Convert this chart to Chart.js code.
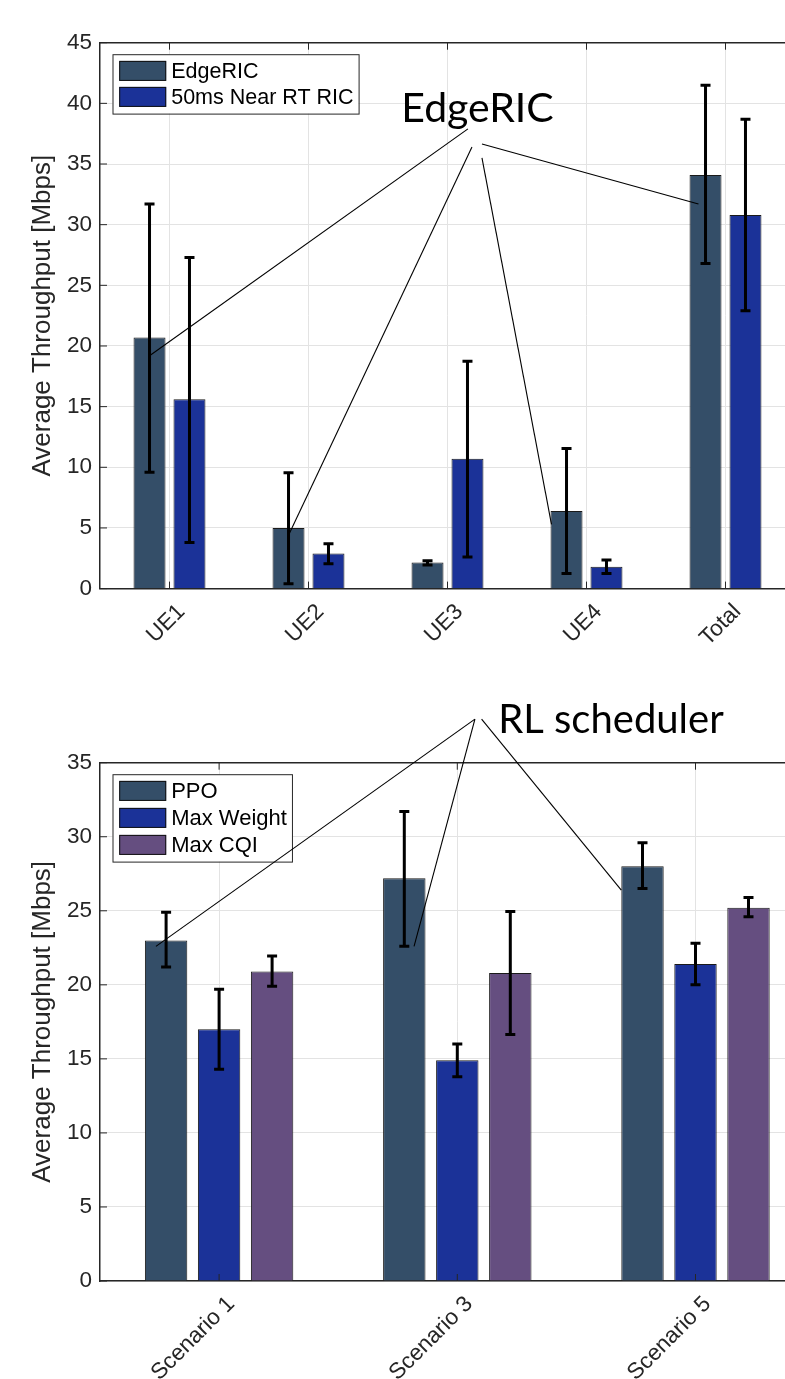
<!DOCTYPE html>
<html>
<head>
<meta charset="utf-8">
<script src="https://cdn.jsdelivr.net/npm/chart.js@4"></script>
<style>
  body { margin: 0; background: #fff; overflow: hidden; width: 785px; height: 1379px; position: relative; }
  canvas { position: absolute; left: 0; }
  #ricChart { top: 0; }
  #schedChart { top: 680px; }
</style>
</head>
<body>
<canvas id="ricChart" width="800" height="680"></canvas>
<canvas id="schedChart" width="820" height="699"></canvas>
<script>
// Top panel: EdgeRIC vs 50ms near-RT RIC
const ueLabels = ['UE1', 'UE2', 'UE3', 'UE4', 'Total'];
const edgeRic = [20.7, 5.0, 2.15, 6.4, 34.1];
const edgeRicLow = [9.6, 0.4, 1.95, 1.25, 26.8];
const edgeRicHigh = [31.7, 9.55, 2.3, 11.55, 41.5];
const nearRt = [15.6, 2.9, 10.7, 1.8, 30.8];
const nearRtLow = [3.8, 2.05, 2.6, 1.25, 22.9];
const nearRtHigh = [27.3, 3.7, 18.75, 2.35, 38.7];

// Bottom panel: schedulers per scenario
const scenarioLabels = ['Scenario 1', 'Scenario 3', 'Scenario 5'];
const ppo = [23.0, 27.2, 28.0];
const ppoLow = [21.2, 22.6, 26.5];
const ppoHigh = [24.9, 31.7, 29.6];
const maxWeight = [17.0, 14.9, 21.4];
const maxWeightLow = [14.3, 13.8, 20.0];
const maxWeightHigh = [19.7, 16.0, 22.8];
const maxCqi = [20.9, 20.8, 25.2];
const maxCqiLow = [19.9, 16.65, 24.6];
const maxCqiHigh = [21.95, 24.95, 25.9];

// Callouts: [from category, from value, dataset, bar, offset in bar widths, to value]
const ricNote = 'EdgeRIC';
const ricNoteAt = [2.216, 38.5];
const ricLinks = [
  [2.147, 37.9, 0, 0, 0, 19.2],
  [2.176, 36.4, 0, 1, 0, 4.4],
  [2.248, 35.5, 0, 3, -0.47, 5.3],
  [2.248, 36.65, 0, 4, -0.22, 31.7]
];
const schedNote = 'RL scheduler';
const schedNoteAt = [1.645, 37.0];
const schedLinks = [
  [1.074, 37.94, 0, 0, -0.24, 22.6],
  [1.074, 37.94, 0, 1, 0.23, 22.6],
  [1.102, 37.94, 0, 2, -0.5, 26.4]
];

const ink = '#262626';
const tickFont = { family: 'Liberation Sans, Arial, sans-serif', size: 22.5 };

const errorBars = {
  id: 'errorBars',
  afterDatasetsDraw(chart) {
    const ctx = chart.ctx;
    const y = chart.scales.y;
    ctx.save();
    ctx.strokeStyle = '#000';
    ctx.lineWidth = 3;
    chart.data.datasets.forEach((ds, i) => {
      chart.getDatasetMeta(i).data.forEach((bar, j) => {
        const top = y.getPixelForValue(ds.errHigh[j]);
        const bot = y.getPixelForValue(ds.errLow[j]);
        ctx.beginPath();
        ctx.moveTo(bar.x, top); ctx.lineTo(bar.x, bot);
        ctx.moveTo(bar.x - 5, top); ctx.lineTo(bar.x + 5, top);
        ctx.moveTo(bar.x - 5, bot); ctx.lineTo(bar.x + 5, bot);
        ctx.stroke();
      });
    });
    ctx.restore();
  }
};

const frame = {
  id: 'frame',
  afterDraw(chart) {
    const { ctx, chartArea: a, scales: { x, y } } = chart;
    ctx.save();
    ctx.strokeStyle = ink;
    ctx.lineWidth = 1.5;
    ctx.beginPath();
    ctx.moveTo(a.left, a.top); ctx.lineTo(a.right, a.top);
    ctx.stroke();
    ctx.lineWidth = 1;
    ctx.beginPath();
    x.ticks.forEach((t, i) => {
      const px = x.getPixelForTick(i);
      ctx.moveTo(px, a.top); ctx.lineTo(px, a.top + 7);
      ctx.moveTo(px, a.bottom); ctx.lineTo(px, a.bottom - 7);
    });
    y.ticks.forEach((t, i) => {
      const py = y.getPixelForTick(i);
      ctx.moveTo(a.left, py); ctx.lineTo(a.left + 7, py);
    });
    ctx.stroke();
    ctx.restore();
  }
};

const boxLegend = {
  id: 'boxLegend',
  afterDraw(chart, args, opts) {
    const { ctx, chartArea } = chart;
    const sets = chart.data.datasets;
    ctx.save();
    ctx.font = opts.font;
    const textW = Math.max(...sets.map(d => ctx.measureText(d.label).width));
    const left = chartArea.left + opts.dx;
    const top = chartArea.top + opts.dy;
    const swW = 47, swH = 20, pad = 6.7;
    const w = pad + swW + 5 + textW + 5;
    const h = pad * 2 + sets.length * opts.rowGap - (opts.rowGap - swH);
    ctx.fillStyle = '#fff';
    ctx.fillRect(left, top, w, h);
    ctx.strokeStyle = ink;
    ctx.lineWidth = 1;
    ctx.strokeRect(left + 0.5, top + 0.5, w, h);
    sets.forEach((d, i) => {
      const sy = top + pad + i * opts.rowGap;
      ctx.fillStyle = d.backgroundColor;
      ctx.fillRect(left + pad, sy, swW, swH);
      ctx.strokeStyle = '#111';
      ctx.strokeRect(left + pad + 0.5, sy + 0.5, swW - 1, swH - 1);
      ctx.fillStyle = '#000';
      ctx.textBaseline = 'middle';
      ctx.fillText(d.label, left + pad + swW + 5, sy + swH / 2 + 1);
    });
    ctx.restore();
  }
};

const callout = {
  id: 'callout',
  afterDraw(chart, args, opts) {
    const { ctx, scales: { x, y } } = chart;
    ctx.save();
    ctx.fillStyle = '#000';
    ctx.font = opts.font;
    ctx.textAlign = 'center';
    ctx.textBaseline = 'alphabetic';
    ctx.fillText(opts.text, x.getPixelForValue(opts.at[0]), y.getPixelForValue(opts.at[1]));
    ctx.strokeStyle = '#000';
    ctx.lineWidth = 1.1;
    opts.links.forEach(([fx, fv, di, bi, dx, tv]) => {
      const bar = chart.getDatasetMeta(di).data[bi];
      ctx.beginPath();
      ctx.moveTo(x.getPixelForValue(fx), y.getPixelForValue(fv));
      ctx.lineTo(bar.x + dx * bar.width, y.getPixelForValue(tv));
      ctx.stroke();
    });
    ctx.restore();
  }
};

function makeChart(id, labels, datasets, yMax, sizes, notes) {
  return new Chart(document.getElementById(id), {
    type: 'bar',
    data: { labels: labels, datasets: datasets },
    plugins: [errorBars, frame, boxLegend, callout],
    options: {
      responsive: false,
      animation: false,
      categoryPercentage: sizes.cat,
      barPercentage: sizes.bar,
      layout: { padding: { top: sizes.top, right: sizes.right, left: 0, bottom: 0 } },
      plugins: {
        legend: { display: false },
        tooltip: { enabled: false },
        boxLegend: { font: sizes.legendFont, dx: 12.5, dy: 11.5, rowGap: sizes.rowGap },
        callout: notes
      },
      scales: {
        x: {
          grid: { color: '#e3e3e3', offset: false, drawTicks: false },
          border: { color: ink, width: 1.5 },
          ticks: { color: ink, font: tickFont, minRotation: 45, maxRotation: 45, padding: 10, labelOffset: 12 },
          afterFit: s => { s.height = sizes.xHeight; }
        },
        y: {
          min: 0,
          max: yMax,
          grid: { color: '#e3e3e3', drawTicks: false },
          border: { color: ink, width: 1.5 },
          ticks: { color: ink, font: tickFont, stepSize: 5, padding: 8 },
          title: {
            display: true,
            text: 'Average Throughput [Mbps]',
            color: ink,
            font: { family: 'Liberation Sans, Arial, sans-serif', size: 26 },
            padding: { top: 27, bottom: 0 }
          },
          afterFit: s => { s.width = 100; }
        }
      }
    }
  });
}

const slate = '#344e68';
const blue = '#1b3298';
const purple = '#654e80';
const edge = '#1a1a1a';

makeChart('ricChart', ueLabels, [
  { label: 'EdgeRIC', data: edgeRic, errLow: edgeRicLow, errHigh: edgeRicHigh, backgroundColor: slate, borderColor: edge, borderWidth: 1 },
  { label: '50ms Near RT RIC', data: nearRt, errLow: nearRtLow, errHigh: nearRtHigh, backgroundColor: blue, borderColor: edge, borderWidth: 1 }
], 45, { cat: 0.575, bar: 0.8, top: 42.7, right: 5, xHeight: 91.4, legendFont: '21.5px Liberation Sans, Arial, sans-serif', rowGap: 26 },
{ text: ricNote, at: ricNoteAt, links: ricLinks, font: '41px Lato, sans-serif' });

makeChart('schedChart', scenarioLabels, [
  { label: 'PPO', data: ppo, errLow: ppoLow, errHigh: ppoHigh, backgroundColor: slate, borderColor: edge, borderWidth: 1 },
  { label: 'Max Weight', data: maxWeight, errLow: maxWeightLow, errHigh: maxWeightHigh, backgroundColor: blue, borderColor: edge, borderWidth: 1 },
  { label: 'Max CQI', data: maxCqi, errLow: maxCqiLow, errHigh: maxCqiHigh, backgroundColor: purple, borderColor: edge, borderWidth: 1 }
], 35, { cat: 0.6675, bar: 0.8, top: 82.7, right: 5.4, xHeight: 98, legendFont: '22px Liberation Sans, Arial, sans-serif', rowGap: 27 },
{ text: schedNote, at: schedNoteAt, links: schedLinks, font: '40px Lato, sans-serif' });
</script>
</body>
</html>
